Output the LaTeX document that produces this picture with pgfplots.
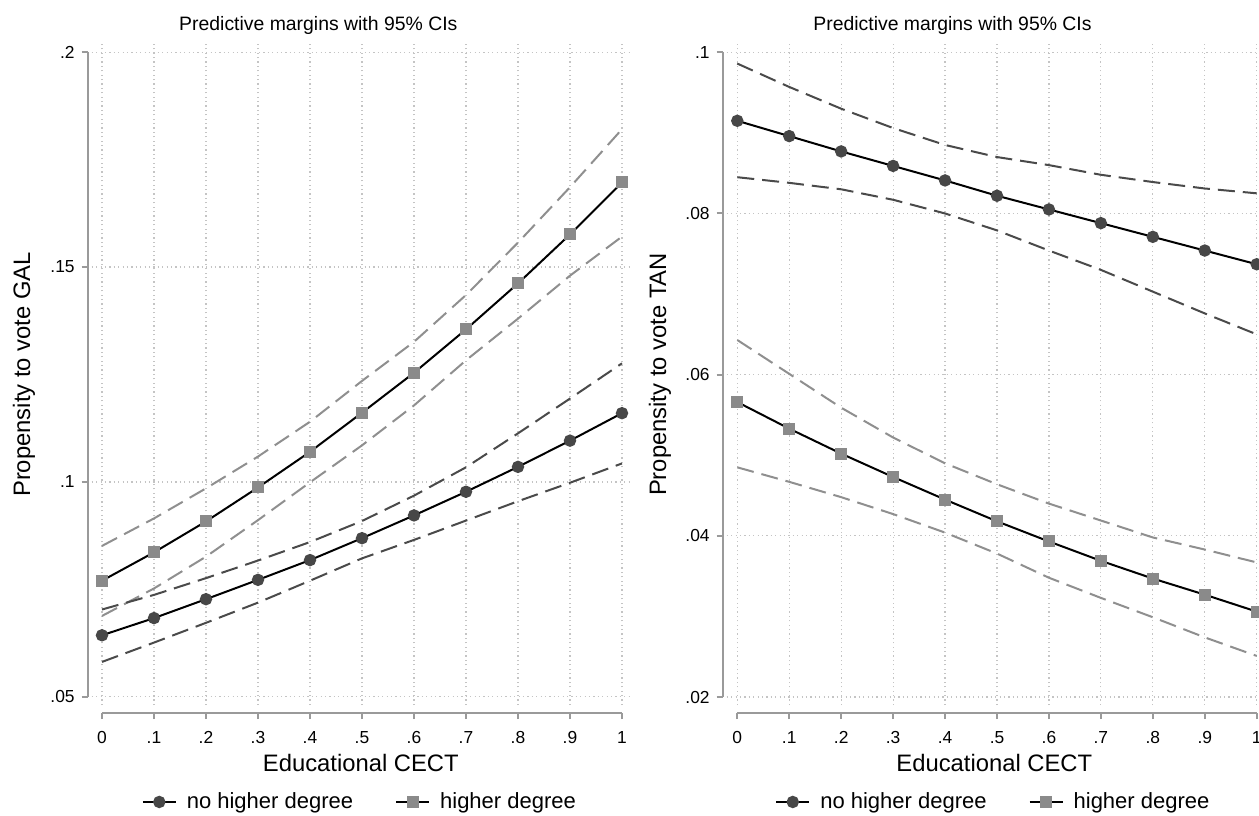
\documentclass[border=0pt]{standalone}
\usepackage{fontspec}
\setmainfont{Liberation Sans}
\usepackage{pgfplots}
\pgfplotsset{compat=1.18}
\definecolor{darkm}{HTML}{474747}
\definecolor{lightm}{HTML}{8A8A8A}
\definecolor{darkci}{HTML}{4A4A4A}
\definecolor{lightci}{HTML}{8F8F8F}
\definecolor{axcol}{HTML}{9A9A9A}
\definecolor{gridcol}{HTML}{C4C4C4}

\pgfplotsset{
  stata/.style={
    scale only axis, height=330.5pt,
    axis x line*=bottom, axis y line*=left,
    axis line style={axcol, line width=1pt},
    axis x line shift=4pt, axis y line shift=2pt,
    tick align=outside, major tick length=3pt,
    tick style={axcol, line width=1pt},
    grid=major,
    grid style={gridcol, line width=0.6pt, dash pattern=on 0.6pt off 1.6pt},
    xtick={0,0.1,0.2,0.3,0.4,0.5,0.6,0.7,0.8,0.9,1},
    xticklabels={0,.1,.2,.3,.4,.5,.6,.7,.8,.9,1},
    ticklabel style={font=\fontsize{8.7}{10}\selectfont},
    xticklabel style={yshift=-2.5pt},
    xlabel={Educational CECT},
    xlabel style={at={(axis description cs:0.5,-0.0877)}, anchor=center, font=\fontsize{11.9}{13}\selectfont},
    ylabel style={anchor=center, font=\fontsize{11.9}{13}\selectfont},
    title={Predictive margins with 95\% CIs},
    every axis title shift/.style={yshift=0pt},
    title style={anchor=center, yshift=-7pt, font=\fontsize{9.7}{11}\selectfont},
    legend columns=2,
    legend style={at={(axis description cs:0.5,-0.1467)}, anchor=center, draw=none, fill=none,
      font=\fontsize{11}{12}\selectfont,
      /tikz/every odd column/.append style={column sep=3pt},
      /tikz/every even column/.append style={column sep=19pt}},
    legend image code/.code={\draw[mark repeat=2,mark phase=2] plot coordinates {(0cm,0cm) (0.29cm,0cm) (0.58cm,0cm)};},
    meanA/.style={black, line width=1pt, mark=*, mark size=2.6pt, mark options={fill=darkm, draw=darkm, solid}},
    meanB/.style={black, line width=1pt, mark=square*, mark size=2.5pt, mark options={fill=lightm, draw=lightm, solid}},
    ciA/.style={darkci, line width=1pt, dash pattern=on 8.5pt off 4pt, no markers, forget plot},
    ciB/.style={lightci, line width=1pt, dash pattern=on 8.5pt off 4pt, no markers, forget plot},
  }
}

\begin{document}
\begin{tikzpicture}[x=1pt,y=1pt]
% ---------------- Left panel ----------------
\begin{axis}[stata,
  at={(45.85pt,55pt)}, anchor=south west, width=269.15pt,
  xmin=-0.0198, xmax=1.0154, ymin=0.04807, ymax=0.20193,
  ytick={0.05,0.1,0.15,0.2}, yticklabels={.05,.1,.15,.2},
  y axis line style={shorten <=4.15pt, shorten >=4.15pt},
  x axis line style={shorten <=5.15pt, shorten >=4pt},
  ylabel={Propensity to vote GAL},
  ylabel style={at={(axis description cs:-0.1258,0.5)}},
  title style={at={(axis description cs:0.421,1.0303)}},
]
\addplot[ciB] coordinates {(0,0.0851)(0.1,0.0915)(0.2,0.0985)(0.3,0.1059)(0.4,0.1140)(0.5,0.1235)(0.6,0.1326)(0.7,0.1435)(0.8,0.1557)(0.9,0.1686)(1,0.1821)};
\addplot[ciB] coordinates {(0,0.0688)(0.1,0.0752)(0.2,0.0826)(0.3,0.0911)(0.4,0.0999)(0.5,0.1085)(0.6,0.1178)(0.7,0.1283)(0.8,0.1380)(0.9,0.1480)(1,0.1571)};
\addplot[ciA] coordinates {(0,0.0703)(0.1,0.0737)(0.2,0.0776)(0.3,0.0817)(0.4,0.0860)(0.5,0.0909)(0.6,0.0968)(0.7,0.1034)(0.8,0.1113)(0.9,0.1194)(1,0.1276)};
\addplot[ciA] coordinates {(0,0.0581)(0.1,0.0626)(0.2,0.0672)(0.3,0.0719)(0.4,0.0770)(0.5,0.0822)(0.6,0.0865)(0.7,0.0910)(0.8,0.0955)(0.9,0.0998)(1,0.1043)};
\addplot[meanA] coordinates {(0,0.0643)(0.1,0.0683)(0.2,0.0727)(0.3,0.0772)(0.4,0.0818)(0.5,0.0869)(0.6,0.0922)(0.7,0.0977)(0.8,0.1035)(0.9,0.1096)(1,0.1160)};
\addlegendentry{no higher degree}
\addplot[meanB] coordinates {(0,0.0770)(0.1,0.0836)(0.2,0.0908)(0.3,0.0987)(0.4,0.1070)(0.5,0.1161)(0.6,0.1254)(0.7,0.1355)(0.8,0.1462)(0.9,0.1576)(1,0.1697)};
\addlegendentry{higher degree}
\end{axis}
% ---------------- Right panel ----------------
\begin{axis}[stata,
  at={(363.35pt,55pt)}, anchor=south west, width=267.65pt,
  xmin=-0.0204, xmax=1.0102, ymin=0.01901, ymax=0.10103,
  ytick={0.02,0.04,0.06,0.08,0.1}, yticklabels={.02,.04,.06,.08,.1},
  y axis line style={shorten <=4pt, shorten >=4.15pt},
  x axis line style={shorten <=5.3pt, shorten >=2.65pt},
  ylabel={Propensity to vote TAN},
  ylabel style={at={(axis description cs:-0.1246,0.5)}},
  title style={at={(axis description cs:0.4218,1.0303)}},
]
\addplot[ciA] coordinates {(0,0.0986)(0.1,0.0957)(0.2,0.0930)(0.3,0.0906)(0.4,0.0885)(0.5,0.0870)(0.6,0.0860)(0.7,0.0848)(0.8,0.0839)(0.9,0.0831)(1,0.0825)};
\addplot[ciA] coordinates {(0,0.0845)(0.1,0.0838)(0.2,0.0830)(0.3,0.0817)(0.4,0.0800)(0.5,0.0779)(0.6,0.0754)(0.7,0.0730)(0.8,0.0703)(0.9,0.0676)(1,0.0650)};
\addplot[ciB] coordinates {(0,0.0643)(0.1,0.0601)(0.2,0.0559)(0.3,0.0522)(0.4,0.0490)(0.5,0.0464)(0.6,0.0440)(0.7,0.0419)(0.8,0.0398)(0.9,0.0383)(1,0.0367)};
\addplot[ciB] coordinates {(0,0.0485)(0.1,0.0467)(0.2,0.0448)(0.3,0.0427)(0.4,0.0404)(0.5,0.0378)(0.6,0.0348)(0.7,0.0323)(0.8,0.0299)(0.9,0.0274)(1,0.0251)};
\addplot[meanA] coordinates {(0,0.0915)(0.1,0.0896)(0.2,0.0877)(0.3,0.0859)(0.4,0.0841)(0.5,0.0822)(0.6,0.0805)(0.7,0.0788)(0.8,0.0771)(0.9,0.0754)(1,0.0737)};
\addlegendentry{no higher degree}
\addplot[meanB] coordinates {(0,0.0566)(0.1,0.0533)(0.2,0.0502)(0.3,0.0473)(0.4,0.0445)(0.5,0.0418)(0.6,0.0393)(0.7,0.0369)(0.8,0.0347)(0.9,0.0327)(1,0.0306)};
\addlegendentry{higher degree}
\end{axis}
\pgfresetboundingbox
\path[use as bounding box] (0,0) rectangle (629.5,407.5);
\end{tikzpicture}
\end{document}
